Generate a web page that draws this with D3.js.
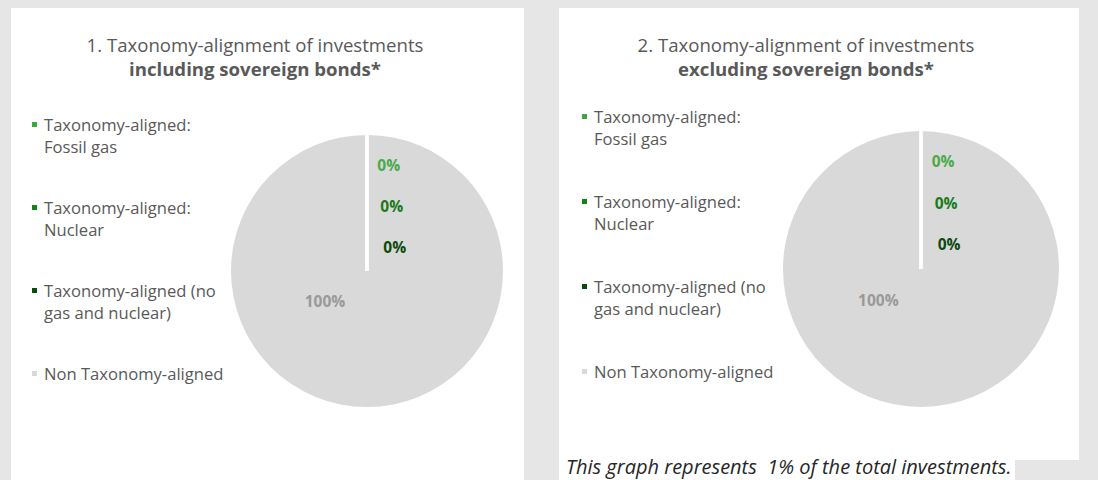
<!DOCTYPE html>
<html>
<head>
<meta charset="utf-8">
<script src="https://cdn.jsdelivr.net/npm/d3@7"></script>
<style>
  body { margin: 0; background: #e6e6e6; }
  svg { display: block; font-family: "Open Sans", Lato, sans-serif; }
</style>
</head>
<body>
<svg width="1098" height="480"></svg>
<script>
/* data */
var categories = [
  "Taxonomy-aligned: Fossil gas",
  "Taxonomy-aligned: Nuclear",
  "Taxonomy-aligned (no gas and nuclear)",
  "Non Taxonomy-aligned"
];
var legendLines = [
  ["Taxonomy-aligned:", "Fossil gas"],
  ["Taxonomy-aligned:", "Nuclear"],
  ["Taxonomy-aligned (no", "gas and nuclear)"],
  ["Non Taxonomy-aligned"]
];
var inclSovereign = [0, 0, 0, 100];
var exclSovereign = [0, 0, 0, 100];
var titleLine1 = ["1. Taxonomy-alignment of investments", "2. Taxonomy-alignment of investments"];
var titleLine2 = ["including sovereign bonds*", "excluding sovereign bonds*"];
var footnote = "This graph represents  1% of the total investments.";

var colors = ["#3ea83e", "#16801a", "#0b4a10", "#d9d9d9"];
var labelColors = ["#4aaa4a", "#1b7a1b", "#0d4a0d", "#999999"];

var svg = d3.select("svg");

// panels
svg.append("rect").attr("x", 11).attr("y", 8).attr("width", 513).attr("height", 472).attr("fill", "#fff");
svg.append("rect").attr("x", 559).attr("y", 8).attr("width", 520).attr("height", 452).attr("fill", "#fff");
svg.append("rect").attr("x", 559).attr("y", 440).attr("width", 456).attr("height", 40).attr("fill", "#fff");

var panels = [
  {values: inclSovereign, titleX: 255, legendX: 32, legendY: 125, legendStep: 83, cx: 367, cy: 271, r: 136},
  {values: exclSovereign, titleX: 806, legendX: 582, legendY: 117, legendStep: 85, cx: 921, cy: 269, r: 138}
];

var pie = d3.pie().sort(null).value(function(d) { return d; });

panels.forEach(function(p, pi) {
  var g = svg.append("g");

  g.append("text")
    .attr("x", p.titleX).attr("y", 52)
    .attr("text-anchor", "middle")
    .attr("fill", "#595959")
    .style("font-size", "18.6px")
    .text(titleLine1[pi]);
  g.append("text")
    .attr("x", p.titleX).attr("y", 76)
    .attr("text-anchor", "middle")
    .attr("fill", "#595959")
    .style("font-size", "18.6px")
    .style("font-weight", "bold")
    .text(titleLine2[pi]);

  // legend
  var leg = g.selectAll(".leg").data(categories).enter().append("g")
    .attr("transform", function(d, i) { return "translate(" + p.legendX + "," + (p.legendY + i * p.legendStep) + ")"; });
  leg.append("rect")
    .attr("x", 0).attr("y", -3).attr("width", 5).attr("height", 5)
    .attr("fill", function(d, i) { return colors[i]; });
  leg.each(function(d, i) {
    var t = d3.select(this).append("text")
      .attr("x", 12).attr("y", 6)
      .attr("fill", "#595959")
      .style("font-size", "16.6px");
    legendLines[i].forEach(function(line, li) {
      t.append("tspan").attr("x", 12).attr("dy", li === 0 ? 0 : 22).text(line);
    });
  });

  // pie
  var arcs = pie(p.values);
  var arc = d3.arc().innerRadius(0).outerRadius(p.r);
  var pg = g.append("g").attr("transform", "translate(" + p.cx + "," + p.cy + ")");

  // big slices first, zero slices on top so their white edge shows
  var order = arcs.slice().sort(function(a, b) { return (b.endAngle - b.startAngle) - (a.endAngle - a.startAngle); });
  pg.selectAll("path").data(order).enter().append("path")
    .attr("d", arc)
    .attr("fill", function(d) { return colors[d.index]; })
    .attr("stroke", "#fff")
    .attr("stroke-width", function(d) { return d.endAngle - d.startAngle > 6 ? 0 : 3; });

  // labels
  var zeroCount = 0;
  pg.selectAll(".lbl").data(arcs).enter().append("text")
    .attr("text-anchor", "middle")
    .attr("dominant-baseline", "central")
    .attr("fill", function(d) { return labelColors[d.index]; })
    .style("font-size", "15.5px")
    .style("font-weight", "bold")
    .each(function(d) {
      var x, y;
      if (d.endAngle - d.startAngle < 0.01) {
        var k = zeroCount++;
        var a = d.startAngle;
        x = Math.sin(a) * p.r * (0.78 - 0.3 * k) + p.r * 0.16 + k * 3;
        y = -Math.cos(a) * p.r * (0.78 - 0.3 * k);
      } else {
        var m = (d.startAngle + d.endAngle) / 2 + 0.95;
        x = Math.sin(m) * p.r * 0.38;
        y = -Math.cos(m) * p.r * 0.38;
      }
      d3.select(this).attr("x", x).attr("y", y);
    })
    .text(function(d) { return d3.format(".0f")(d.value) + "%"; });
});

svg.append("text")
  .attr("x", 566).attr("y", 474)
  .attr("fill", "#262626")
  .attr("xml:space", "preserve")
  .style("white-space", "pre")
  .style("font-size", "20px")
  .style("font-style", "italic")
  .text(footnote);

// gray notch under right panel
svg.append("rect").attr("x", 1015).attr("y", 460).attr("width", 65).attr("height", 20).attr("fill", "#e6e6e6");
</script>
</body>
</html>
